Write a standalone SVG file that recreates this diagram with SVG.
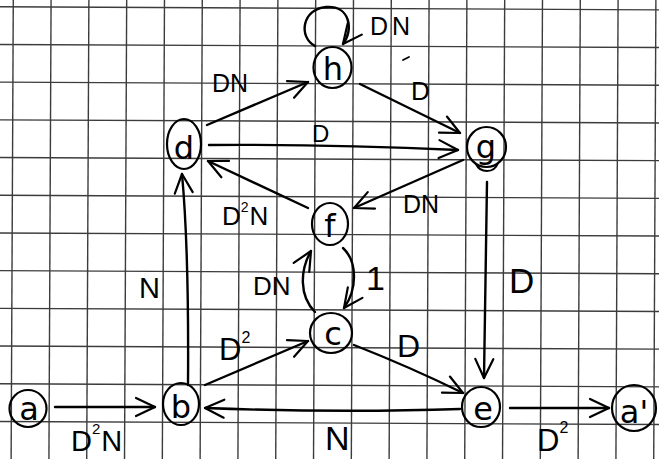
<svg xmlns="http://www.w3.org/2000/svg" width="659" height="459" viewBox="0 0 659 459">
<style>
.grid line{stroke:#3c3c3c;stroke-width:1.4}
.node ellipse{fill:none;stroke:#000;stroke-width:2.2}
.node text{font-family:"DejaVu Sans",sans-serif;font-size:32px;text-anchor:middle;fill:#000}
.edge{fill:none;stroke:#000;stroke-width:2.4;stroke-linecap:round;marker-end:url(#ah)}
.lbl{font-family:"Liberation Sans",Arial,sans-serif;fill:#000}
</style>
<defs>
<marker id="ah" viewBox="-22 -12 26 24" refX="0" refY="0" markerWidth="26" markerHeight="24" markerUnits="userSpaceOnUse" orient="auto">
<path d="M-19,-9 L0,0 L-19,9" fill="none" stroke="#000" stroke-width="2.2" stroke-linecap="round" stroke-linejoin="round"/>
</marker>
</defs>
<rect width="659" height="459" fill="#fff"/>
<g class="grid" transform="rotate(0.27 330 230)">
<line x1="12.2" y1="-10" x2="12.2" y2="470"/><line x1="50" y1="-10" x2="50" y2="470"/><line x1="87.8" y1="-10" x2="87.8" y2="470"/><line x1="125.6" y1="-10" x2="125.6" y2="470"/><line x1="163.4" y1="-10" x2="163.4" y2="470"/><line x1="201.2" y1="-10" x2="201.2" y2="470"/><line x1="239" y1="-10" x2="239" y2="470"/><line x1="276.8" y1="-10" x2="276.8" y2="470"/><line x1="314.6" y1="-10" x2="314.6" y2="470"/><line x1="352.4" y1="-10" x2="352.4" y2="470"/><line x1="390.2" y1="-10" x2="390.2" y2="470"/><line x1="428" y1="-10" x2="428" y2="470"/><line x1="465.8" y1="-10" x2="465.8" y2="470"/><line x1="503.6" y1="-10" x2="503.6" y2="470"/><line x1="541.4" y1="-10" x2="541.4" y2="470"/><line x1="579.2" y1="-10" x2="579.2" y2="470"/><line x1="617" y1="-10" x2="617" y2="470"/><line x1="654.8" y1="-10" x2="654.8" y2="470"/>
<line x1="-10" y1="8.3" x2="670" y2="8.3"/><line x1="-10" y1="46" x2="670" y2="46"/><line x1="-10" y1="83.7" x2="670" y2="83.7"/><line x1="-10" y1="121.4" x2="670" y2="121.4"/><line x1="-10" y1="159.1" x2="670" y2="159.1"/><line x1="-10" y1="196.8" x2="670" y2="196.8"/><line x1="-10" y1="234.5" x2="670" y2="234.5"/><line x1="-10" y1="272.2" x2="670" y2="272.2"/><line x1="-10" y1="309.9" x2="670" y2="309.9"/><line x1="-10" y1="347.6" x2="670" y2="347.6"/><line x1="-10" y1="385.3" x2="670" y2="385.3"/><line x1="-10" y1="423" x2="670" y2="423"/>
</g>
<g id="connectors">
<path class="edge" d="M55,407 L155,407"/>
<path class="edge" d="M460,409 Q340,413 205,408"/>
<path class="edge" d="M205,385 L308,341"/>
<path class="edge" d="M354,345 Q410,367 463,393"/>
<path class="edge" d="M510,408 L609,408"/>
<path class="edge" d="M487,182 L484,378"/>
<path class="edge" d="M188,385 Q189,250 182,174"/>
<path class="edge" d="M207,125 L308,82"/>
<path class="edge" d="M360,84 L460,133"/>
<path class="edge" d="M209,145 Q330,144 458,150"/>
<path class="edge" d="M463,160 L354,208"/>
<path class="edge" d="M308,208 L208,161"/>
<path class="edge" d="M343,248 C358,262 357,290 344,308"/>
<path class="edge" d="M315,312 C299,296 300,270 311,251"/>
<path class="edge" d="M315,46 C298,37 302,9 326,7 C350,5 354,30 343,44"/>
<path d="M403,60 L409,57" fill="none" stroke="#000" stroke-width="1.8" stroke-linecap="round"/>
</g>
<g id="labels">
<text class="lbl" x="370" y="35" font-size="25" letter-spacing="4">DN</text>
<text class="lbl" x="212" y="92" font-size="25">DN</text>
<text class="lbl" x="411" y="100" font-size="26">D</text>
<text class="lbl" x="312" y="142" font-size="24">D</text>
<text class="lbl" x="222" y="225" font-size="26">D<tspan font-size="14" dy="-13">2</tspan><tspan dy="13" dx="1">N</tspan></text>
<text class="lbl" x="403" y="213" font-size="25">DN</text>
<text class="lbl" x="139" y="298" font-size="29">N</text>
<text class="lbl" x="253" y="295" font-size="26">DN</text>
<text class="lbl" x="366" y="290" font-size="34">1</text>
<text class="lbl" x="219" y="360" font-size="31">D<tspan font-size="16" dy="-17">2</tspan></text>
<text class="lbl" x="397" y="357" font-size="32">D</text>
<text class="lbl" x="509" y="293" font-size="35">D</text>
<text class="lbl" x="71" y="451" font-size="29">D<tspan font-size="15" dy="-17">2</tspan><tspan dy="17" dx="1">N</tspan></text>
<text class="lbl" x="325" y="450" font-size="34">N</text>
<text class="lbl" x="537" y="451" font-size="31">D<tspan font-size="16" dy="-18">2</tspan></text>
</g>
<g id="node-a" class="node"><ellipse cx="28" cy="408.5" rx="18.5" ry="18.5"/><text x="29" y="420">a</text></g>
<g id="node-b" class="node"><ellipse cx="181" cy="404" rx="18" ry="21"/><text x="181" y="418">b</text></g>
<g id="node-c" class="node"><ellipse cx="331" cy="333" rx="21" ry="20"/><text x="333" y="345">c</text></g>
<g id="node-d" class="node"><ellipse cx="184" cy="144" rx="17" ry="25"/><text x="184" y="159">d</text></g>
<g id="node-e" class="node"><ellipse cx="481" cy="407" rx="19" ry="20"/><text x="483" y="420">e</text></g>
<g id="node-f" class="node"><ellipse cx="330" cy="224" rx="18" ry="21"/><text x="330" y="237">f</text></g>
<g id="node-g" class="node"><ellipse cx="486.5" cy="147" rx="19.5" ry="20"/><path d="M476,164 C480,173 494,174 498,163" fill="none" stroke="#000" stroke-width="2"/><text x="486" y="158">g</text></g>
<g id="node-h" class="node"><ellipse cx="332.5" cy="67.5" rx="19" ry="20.5"/><text x="333" y="80">h</text></g>
<g id="node-a2" class="node"><ellipse cx="634" cy="408" rx="22" ry="23"/><text x="634" y="423">a'</text></g>
</svg>
